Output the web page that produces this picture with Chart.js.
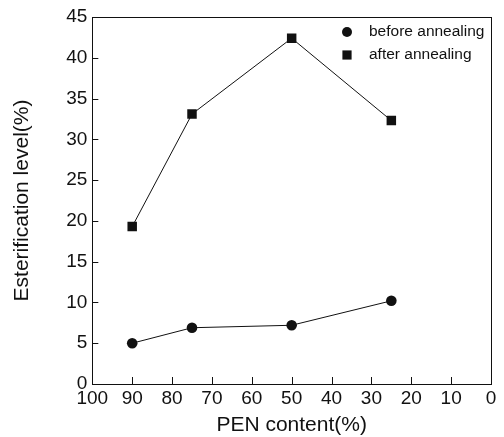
<!DOCTYPE html>
<html lang="en">
<head>
    <meta charset="UTF-8">
    <title>Esterification level vs PEN content</title>
    <script src="https://cdn.jsdelivr.net/npm/chart.js"></script>
    <style>
        html, body {
            margin: 0;
            padding: 0;
            background: #fff;
            overflow: hidden;
        }
        .chart-container {
            width: 504px;
            height: 437px;
        }
    </style>
</head>
<body>
    <div class="chart-container">
        <canvas id="esterChart"></canvas>
    </div>

    <script>
        // PEN content (%) and measured esterification level (%)
        const penContent = [90, 75, 50, 25];
        const beforeAnnealing = [5.0, 6.9, 7.2, 10.2];
        const afterAnnealing = [19.3, 33.1, 42.4, 32.3];

        const xTicks = [100, 90, 80, 70, 60, 50, 40, 30, 20, 10, 0];
        const yTicks = [0, 5, 10, 15, 20, 25, 30, 35, 40, 45];

        const FONT = '"Liberation Sans", Arial, sans-serif';
        const INK = '#111';

        function toPoints(xs, ys) {
            return xs.map((x, i) => ({ x: x, y: ys[i] }));
        }

        // bare axis used only to close the box on the top and right sides
        function edgeAxis(position, min, max, reverse) {
            return {
                type: 'linear',
                position: position,
                min: min,
                max: max,
                reverse: reverse,
                border: { display: true, color: INK, width: 1 },
                grid: { display: false, drawTicks: false },
                ticks: { display: false }
            };
        }

        // inward tick marks and the legend in the top right corner
        const plotDecor = {
            id: 'plotDecor',
            afterDraw(chart) {
                const ctx = chart.ctx;
                const a = chart.chartArea;
                const xs = chart.scales.x;
                const ys = chart.scales.y;
                ctx.save();

                ctx.strokeStyle = INK;
                ctx.lineWidth = 1;
                ctx.beginPath();
                xTicks.forEach(v => {
                    const px = Math.round(xs.getPixelForValue(v)) + 0.5;
                    ctx.moveTo(px, a.bottom);
                    ctx.lineTo(px, a.bottom - 7);
                });
                yTicks.forEach(v => {
                    const py = Math.round(ys.getPixelForValue(v)) + 0.5;
                    ctx.moveTo(a.left, py);
                    ctx.lineTo(a.left + 6, py);
                });
                ctx.stroke();

                ctx.font = '15.5px ' + FONT;
                ctx.textBaseline = 'middle';
                chart.data.datasets.forEach((ds, i) => {
                    const y = a.top + 15 + i * 23;
                    const x = a.right - 144;
                    ctx.fillStyle = INK;
                    Chart.helpers.drawPoint(ctx, {
                        pointStyle: ds.pointStyle,
                        radius: ds.pointStyle === 'rect' ? 6.5 : 5,
                        borderWidth: 0
                    }, x, y);
                    ctx.fillStyle = INK;
                    ctx.fillText(ds.label, x + 22, y);
                });
                ctx.restore();
            }
        };

        const ctx = document.getElementById('esterChart').getContext('2d');
        new Chart(ctx, {
            type: 'line',
            data: {
                datasets: [
                    {
                        label: 'before annealing',
                        data: toPoints(penContent, beforeAnnealing),
                        borderColor: INK,
                        backgroundColor: INK,
                        borderWidth: 1,
                        pointStyle: 'circle',
                        pointRadius: 5.3,
                        pointBorderWidth: 0,
                        tension: 0
                    },
                    {
                        label: 'after annealing',
                        data: toPoints(penContent, afterAnnealing),
                        borderColor: INK,
                        backgroundColor: INK,
                        borderWidth: 1,
                        pointStyle: 'rect',
                        pointRadius: 6.7,
                        pointBorderWidth: 0,
                        tension: 0
                    }
                ]
            },
            options: {
                responsive: true,
                maintainAspectRatio: false,
                animation: false,
                layout: {
                    padding: { top: 17, right: 13, left: 10, bottom: 0 }
                },
                plugins: {
                    legend: { display: false },
                    tooltip: { enabled: false }
                },
                scales: {
                    x: {
                        type: 'linear',
                        reverse: true,
                        min: 0,
                        max: 100,
                        afterBuildTicks(scale) {
                            scale.ticks = xTicks.map(v => ({ value: v }));
                        },
                        border: { display: true, color: INK, width: 1 },
                        grid: { display: false, drawTicks: false },
                        ticks: {
                            color: INK,
                            padding: 3,
                            maxRotation: 0,
                            font: { family: FONT, size: 19 }
                        },
                        title: {
                            display: true,
                            text: 'PEN content(%)',
                            color: INK,
                            padding: { top: 0, bottom: -1 },
                            font: { family: FONT, size: 21 }
                        }
                    },
                    y: {
                        min: 0,
                        max: 45,
                        afterBuildTicks(scale) {
                            scale.ticks = yTicks.map(v => ({ value: v }));
                        },
                        border: { display: true, color: INK, width: 1 },
                        grid: { display: false, drawTicks: false },
                        ticks: {
                            color: INK,
                            padding: 5,
                            font: { family: FONT, size: 19 }
                        },
                        title: {
                            display: true,
                            text: 'Esterification level(%)',
                            color: INK,
                            padding: { top: 0, bottom: 26 },
                            font: { family: FONT, size: 21 }
                        }
                    },
                    xTop: edgeAxis('top', 0, 100, true),
                    yRight: edgeAxis('right', 0, 45, false)
                }
            },
            plugins: [plotDecor]
        });
    </script>
</body>
</html>
